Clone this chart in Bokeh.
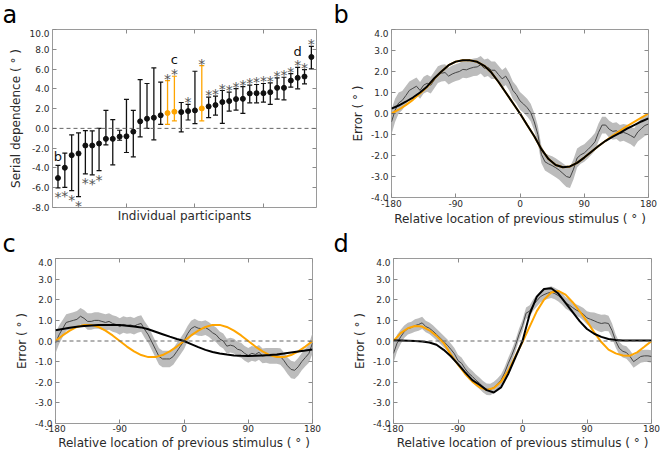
from bokeh.plotting import figure
from bokeh.layouts import row, column
from bokeh.models import (LinearAxis, FixedTicker, Span, Range1d,
                          ColumnDataSource, NumeralTickFormatter, CustomJSTickFormatter)
from bokeh.core.properties import value
from bokeh.embed import file_html
from bokeh.resources import INLINE

# ---------------- panel a : serial dependence per participant ----------------
participant = list(range(38))
sd_mean = [-5.02, -3.98, -2.71, -2.54, -1.73, -1.73, -1.53, -1.06, -1.06, -0.83,
           -0.80, -0.33, 0.71, 0.98, 1.08, 1.32, 1.55, 1.69, 1.65, 1.75,
           1.82, 2.02, 2.22, 2.36, 2.66, 2.76, 2.96, 2.99, 3.53, 3.56,
           3.56, 3.66, 4.10, 4.10, 4.84, 5.11, 5.24, 7.22]
sd_upper = [-3.74, -2.50, -0.66, -0.46, -0.22, -0.26, 0.01, 1.82, 0.88, -0.19,
            2.93, 1.82, 4.94, 4.54, 6.11, 4.68, 4.84, 5.27, 2.62, 2.42,
            5.78, 6.35, 3.16, 3.26, 3.83, 3.66, 4.03, 4.23, 4.37, 4.44,
            4.54, 4.60, 5.10, 5.17, 5.54, 6.18, 5.94, 8.29]
sd_lower = [-6.02, -5.96, -6.29, -6.90, -4.60, -4.70, -4.28, -1.67, -3.68, -1.20,
            -2.44, -2.88, -0.86, 0.00, -1.16, 0.41, 0.41, 0.75, -0.36, 0.85,
            0.48, 0.75, 1.08, 1.35, 0.51, 1.75, 1.85, 1.52, 2.59, 2.59,
            2.66, 2.42, 2.96, 2.89, 4.17, 4.00, 4.50, 6.01]
significant = [1, 1, 1, 1, 1, 1, 1, 0, 0, 0, 0, 0, 0, 0, 0, 0, 1, 1, 0, 1,
               0, 1, 1, 1, 1, 1, 1, 1, 1, 1, 1, 1, 1, 1, 1, 1, 1, 1]
highlighted = [0, 0, 0, 0, 0, 0, 0, 0, 0, 0, 0, 0, 0, 0, 0, 0, 1, 1, 0, 0,
               0, 1, 0, 0, 0, 0, 0, 0, 0, 0, 0, 0, 0, 0, 0, 0, 0, 0]
example_labels = {0: "b", 17: "c", 35: "d"}
a_yticks = [-8, -6, -4, -2, 0, 2, 4, 6, 8, 10]
a_xticks = [10, 20, 30]
panel_letters = ["a", "b", "c", "d"]

# ---------------- panels b, c, d : error vs relative location ----------------
angle_ticks = [-180, -90, 0, 90, 180]
error_ticks = [-4, -3, -2, -1, 0, 1, 2, 3, 4]
angle_fit = list(range(-180, 181, 10))
angle_data = list(range(-180, 181, 5))

b_data = [-0.4, 0.15, 0.5, 0.62, 0.85, 1.1, 1.2, 1.3, 1.1, 1.35,
          1.44, 1.35, 1.6, 1.85, 1.92, 1.95, 1.78, 1.88, 1.95, 2.0,
          2.1, 2.08, 2.15, 2.2, 2.22, 2.32, 2.15, 2.2, 2.06, 2.06,
          1.85, 1.65, 1.78, 1.5, 1.1, 0.9, 0.6, 0.45, 0.28, 0.05,
          -0.4, -1.0, -1.95, -2.3, -2.4, -2.48, -2.58, -2.7, -2.85, -3.0,
          -3.05, -2.65, -2.12, -1.97, -1.88, -1.72, -1.55, -1.35, -0.9, -0.55,
          -0.55, -0.75, -0.85, -0.82, -0.95, -0.9, -0.96, -1.05, -1.15, -0.88,
          -0.72, -0.57, -0.5]
b_sem = [0.6, 0.55, 0.5, 0.45, 0.45, 0.42, 0.42, 0.42, 0.4, 0.4,
         0.4, 0.4, 0.4, 0.4, 0.4, 0.4, 0.4, 0.4, 0.4, 0.4,
         0.4, 0.4, 0.42, 0.42, 0.42, 0.42, 0.42, 0.42, 0.42, 0.42,
         0.42, 0.42, 0.42, 0.42, 0.42, 0.42, 0.42, 0.42, 0.42, 0.42,
         0.42, 0.42, 0.42, 0.42, 0.42, 0.45, 0.45, 0.45, 0.48, 0.5,
         0.5, 0.48, 0.45, 0.42, 0.42, 0.42, 0.42, 0.42, 0.42, 0.4,
         0.4, 0.4, 0.4, 0.4, 0.4, 0.4, 0.42, 0.42, 0.45, 0.45,
         0.48, 0.5, 0.5]
b_black = [0.23, 0.38, 0.56, 0.76, 1.0, 1.29, 1.68, 2.0, 2.3, 2.47,
           2.54, 2.53, 2.46, 2.27, 1.95, 1.5, 1.0, 0.5, 0.0,
           -0.55, -1.08, -1.7, -2.17, -2.45, -2.56, -2.52, -2.35, -2.1,
           -1.82, -1.55, -1.3, -1.1, -0.92, -0.72, -0.55, -0.38, -0.23]
b_orange = [0.0, 0.18, 0.4, 0.65, 0.95, 1.27, 1.66, 2.0, 2.3, 2.47,
            2.54, 2.53, 2.46, 2.27, 1.95, 1.5, 1.0, 0.5, 0.0,
            -0.55, -1.08, -1.7, -2.17, -2.45, -2.56, -2.52, -2.35, -2.1,
            -1.82, -1.55, -1.3, -1.05, -0.83, -0.6, -0.4, -0.2, 0.0]

c_data = [-0.1, 0.3, 0.6, 0.9, 0.95, 1.0, 1.05, 1.2, 1.1, 0.95,
          0.95, 1.0, 1.0, 0.95, 0.9, 0.95, 0.85, 0.8, 0.7, 0.8,
          0.75, 0.78, 0.72, 0.8, 0.85, 0.55, 0.3, -0.05, -0.4, -0.75,
          -0.87, -0.87, -0.87, -0.75, -0.5, -0.25, 0.0, 0.35, 0.6, 0.7,
          0.62, 0.6, 0.65, 0.55, 0.4, 0.3, 0.1, 0.0, -0.25, -0.2,
          -0.25, -0.4, -0.45, -0.6, -0.7, -0.6, -0.65, -0.55, -0.72, -0.7,
          -0.72, -0.72, -0.72, -0.75, -0.95, -1.2, -1.38, -1.42, -1.25, -1.0,
          -0.8, -0.6, -0.1]
c_sem = [0.5, 0.45, 0.42, 0.4, 0.4, 0.4, 0.4, 0.4, 0.4, 0.4,
         0.4, 0.4, 0.4, 0.4, 0.4, 0.4, 0.4, 0.4, 0.4, 0.4,
         0.4, 0.4, 0.4, 0.4, 0.4, 0.4, 0.4, 0.4, 0.4, 0.4,
         0.4, 0.4, 0.4, 0.4, 0.4, 0.4, 0.4, 0.38, 0.38, 0.38,
         0.36, 0.36, 0.36, 0.36, 0.36, 0.36, 0.36, 0.36, 0.36, 0.36,
         0.36, 0.36, 0.36, 0.36, 0.36, 0.36, 0.36, 0.36, 0.36, 0.36,
         0.38, 0.38, 0.38, 0.4, 0.4, 0.4, 0.42, 0.42, 0.42, 0.42,
         0.42, 0.45, 0.5]
c_black = [0.52, 0.58, 0.64, 0.69, 0.73, 0.75, 0.77, 0.78, 0.78, 0.77,
           0.74, 0.70, 0.66, 0.57, 0.45, 0.33, 0.21, 0.10, 0.0,
           -0.15, -0.3, -0.43, -0.53, -0.61, -0.66, -0.70, -0.72, -0.73,
           -0.72, -0.70, -0.68, -0.65, -0.61, -0.56, -0.51, -0.46, -0.41]
c_orange = [0.0, 0.27, 0.50, 0.68, 0.78, 0.78, 0.68, 0.50, 0.27, 0.0,
            -0.27, -0.50, -0.68, -0.78, -0.78, -0.68, -0.50, -0.27, 0.0,
            0.27, 0.50, 0.68, 0.78, 0.78, 0.68, 0.50, 0.27, 0.0,
            -0.27, -0.50, -0.68, -0.78, -0.78, -0.68, -0.50, -0.27, 0.0]

d_data = [-0.6, -0.1, 0.2, 0.45, 0.6, 0.65, 0.75, 0.8, 0.88, 0.7,
          0.62, 0.48, 0.32, 0.15, -0.02, -0.2, -0.4, -0.62, -0.95, -1.08,
          -1.35, -1.57, -1.72, -1.9, -2.05, -2.22, -2.34, -2.35, -2.25, -2.1,
          -1.9, -1.55, -1.1, -0.7, -0.25, 0.3, 0.75, 1.35, 1.45, 1.75,
          1.95, 2.15, 2.25, 2.32, 2.37, 2.3, 2.2, 2.05, 1.85, 1.75,
          1.62, 1.5, 1.42, 1.3, 1.12, 1.05, 0.98, 0.9, 0.85, 0.88,
          0.85, 0.5, 0.0, -0.35, -0.5, -0.56, -0.75, -1.0, -0.88, -0.75,
          -0.72, -0.72, -0.75]
d_sem = [0.45, 0.4, 0.35, 0.3, 0.28, 0.28, 0.3, 0.3, 0.3, 0.28,
         0.28, 0.28, 0.28, 0.28, 0.28, 0.28, 0.28, 0.28, 0.28, 0.28,
         0.28, 0.28, 0.28, 0.28, 0.28, 0.28, 0.28, 0.28, 0.28, 0.28,
         0.28, 0.28, 0.28, 0.28, 0.28, 0.28, 0.28, 0.28, 0.28, 0.28,
         0.28, 0.28, 0.28, 0.28, 0.28, 0.28, 0.28, 0.28, 0.28, 0.28,
         0.28, 0.28, 0.28, 0.3, 0.32, 0.35, 0.4, 0.42, 0.42, 0.4,
         0.38, 0.35, 0.32, 0.3, 0.3, 0.3, 0.3, 0.3, 0.3, 0.3,
         0.3, 0.3, 0.3]
d_black = [0.02, 0.02, 0.01, 0.0, -0.02, -0.07, -0.18, -0.43, -0.74,
           -1.12, -1.52, -1.9, -2.12, -2.38, -2.5, -2.25, -1.6, -0.8,
           0.0,
           1.3, 2.15, 2.52, 2.56, 2.3, 1.85, 1.4, 0.95, 0.58,
           0.35, 0.2, 0.1, 0.05, 0.03, 0.02, 0.02, 0.02, 0.02]
d_orange = [0.0, 0.38, 0.62, 0.73, 0.7, 0.52, 0.25, -0.1, -0.65, -1.15,
            -1.6, -1.97, -2.24, -2.37, -2.28, -1.98, -1.45, -0.75, -0.05,
            0.7, 1.45, 2.0, 2.35, 2.43, 2.25, 1.88, 1.43, 0.95, 0.42,
            -0.05, -0.42, -0.6, -0.7, -0.71, -0.55, -0.28, 0.0]

# ---------------- styling ----------------
FONT = "DejaVu Sans"
SPINE = "#9a9a9a"
TICK = "#8a8a8a"
TXT = "#2a2a2a"
ORANGE = "#FFA500"
BAND = "#bcbcbc"
DATA_LINE = "#454545"


def no_align(p):
    if "frame_align" in p.properties():
        p.frame_align = False


def style_axis(ax, ticks, fmt=None, label=None, show_labels=True):
    ax.ticker = FixedTicker(ticks=ticks)
    ax.axis_line_color = None
    ax.major_tick_in = 4
    ax.major_tick_out = 0
    ax.major_tick_line_color = TICK
    ax.major_tick_line_width = 1
    ax.minor_tick_line_color = None
    ax.major_label_text_font = FONT
    ax.major_label_text_color = TXT
    ax.major_label_text_font_size = "9px"
    ax.major_label_standoff = 3
    if fmt is not None:
        ax.formatter = fmt
    if not show_labels:
        ax.major_label_text_font_size = "1px"
        ax.major_label_text_alpha = 0
        ax.major_label_standoff = 0
    if label:
        ax.axis_label = label
        ax.axis_label_text_font = FONT
        ax.axis_label_text_font_size = "12px"
        ax.axis_label_text_font_style = "normal"
        ax.axis_label_text_color = TXT
        ax.axis_label_standoff = 3


def base_fig(w, h, bl, br, bt, bb, xr, yr):
    p = figure(width=w, height=h, x_range=Range1d(*xr), y_range=Range1d(*yr),
               output_backend="svg", toolbar_location=None,
               min_border_left=bl, min_border_right=br,
               min_border_top=bt, min_border_bottom=bb)
    no_align(p)
    p.xgrid.grid_line_color = None
    p.ygrid.grid_line_color = None
    p.outline_line_color = SPINE
    p.outline_line_width = 1
    p.outline_line_alpha = 1
    p.background_fill_color = "white"
    p.border_fill_color = "white"
    return p


def add_mirrors(p, xticks, yticks, xr, yr):
    # inward ticks on the top and right spines, drawn at the range ends
    top = LinearAxis(fixed_location=yr[1])
    style_axis(top, xticks, CustomJSTickFormatter(code="return ''"), show_labels=False)
    p.add_layout(top, "above")
    right = LinearAxis(fixed_location=xr[1])
    style_axis(right, yticks, CustomJSTickFormatter(code="return ''"), show_labels=False)
    p.add_layout(right, "right")


STRIP_H = 29


def letter_strip(letter, x):
    s = figure(width=330, height=STRIP_H, x_range=Range1d(0, 330), y_range=Range1d(STRIP_H, 0),
               output_backend="svg", toolbar_location=None,
               x_axis_location=None, y_axis_location=None, min_border=0)
    no_align(s)
    s.xgrid.visible = False
    s.ygrid.visible = False
    s.outline_line_color = None
    s.background_fill_color = "white"
    s.border_fill_color = "white"
    s.text(x=[x], y=[STRIP_H / 2], text=[letter], text_font=value(FONT),
           text_font_size="24px", text_color="black",
           text_align="left", text_baseline="middle")
    return s


def zero_line(p):
    p.add_layout(Span(location=0, dimension="width", line_color="#666666",
                      line_width=1, line_dash="4 3"))


# ---------------- panel a ----------------
xr_a, yr_a = (-0.8, 37.75), (-8, 10)
pa = base_fig(330, 200, 52, 14, 0, 22, xr_a, yr_a)
style_axis(pa.yaxis[0], a_yticks, NumeralTickFormatter(format="0.0"),
           "Serial dependence ( ° )")
style_axis(pa.xaxis[0], a_xticks, NumeralTickFormatter(format="0"),
           label="Individual participants", show_labels=False)
pa.xaxis[0].axis_label_standoff = 1
add_mirrors(pa, a_xticks, a_yticks, xr_a, yr_a)
zero_line(pa)

colors = [ORANGE if h else "#111111" for h in highlighted]
src_a = ColumnDataSource(dict(x=participant, m=sd_mean, lo=sd_lower, hi=sd_upper, c=colors))
pa.segment(x0="x", y0="lo", x1="x", y1="hi", source=src_a, line_color="c", line_width=1.3)
pa.scatter(x="x", y="hi", source=src_a, marker="dash", size=5, line_color="c", line_width=1.2)
pa.scatter(x="x", y="lo", source=src_a, marker="dash", size=5, line_color="c", line_width=1.2)
pa.scatter(x="x", y="m", source=src_a, marker="circle", size=5, fill_color="c", line_color="c")

above = [i for i in participant if significant[i] and sd_mean[i] > 0]
below = [i for i in participant if significant[i] and sd_mean[i] < 0]
pa.text(x=above, y=[sd_upper[i] for i in above], text=["*"] * len(above),
        text_font=value(FONT), text_font_size="14px", text_color="#555555",
        text_align="center", text_baseline="middle", y_offset=-2)
pa.text(x=below, y=[sd_lower[i] for i in below], text=["*"] * len(below),
        text_font=value(FONT), text_font_size="14px", text_color="#555555",
        text_align="center", text_baseline="middle", y_offset=9)
lab_idx = list(example_labels.keys())
pa.text(x=lab_idx, y=[sd_upper[i] for i in lab_idx], text=[example_labels[i] for i in lab_idx],
        text_font=value(FONT), text_font_size="13px", text_color="#111111",
        text_align="center", text_baseline="middle",
        y_offset=[-9, -17, -16])


# ---------------- panels b, c, d ----------------
def error_panel(h, bl, br, bt, bb, data, sem, black, orange, so):
    xr, yr = (-180, 180), (-4, 4)
    p = base_fig(330, h, bl, br, bt, bb, xr, yr)
    style_axis(p.yaxis[0], error_ticks, NumeralTickFormatter(format="0.0"), "Error ( ° )")
    style_axis(p.xaxis[0], angle_ticks, NumeralTickFormatter(format="0"),
               "Relative location of previous stimulus ( ° )")
    p.xaxis[0].major_label_standoff = so
    p.xaxis[0].axis_label_standoff = so
    add_mirrors(p, angle_ticks, error_ticks, xr, yr)
    lo = [m - s for m, s in zip(data, sem)]
    hi = [m + s for m, s in zip(data, sem)]
    p.varea(x=angle_data, y1=lo, y2=hi, fill_color=BAND, fill_alpha=1)
    zero_line(p)
    p.line(angle_data, data, line_color=DATA_LINE, line_width=1)
    p.line(angle_fit, orange, line_color=ORANGE, line_width=2)
    p.line(angle_fit, black, line_color="black", line_width=2)
    return p


# top row: 29 (letters) + 200 = 229 ; bottom row: 29 + 195 = 224
pb = error_panel(200, 61, 12, 0, 32, b_data, b_sem, b_black, b_orange, 2)
pc = error_panel(195, 55, 18, 0, 30, c_data, c_sem, c_black, c_orange, 1)
pd = error_panel(195, 63, 9, 0, 30, d_data, d_sem, d_black, d_orange, 1)

sa = letter_strip(panel_letters[0], 2)
sb = letter_strip(panel_letters[1], 3)
sc = letter_strip(panel_letters[2], 2)
sd = letter_strip(panel_letters[3], 3)

layout = column(row(column(sa, pa), column(sb, pb)),
                row(column(sc, pc), column(sd, pd)))
open("out.html", "w").write(file_html(layout, INLINE))
